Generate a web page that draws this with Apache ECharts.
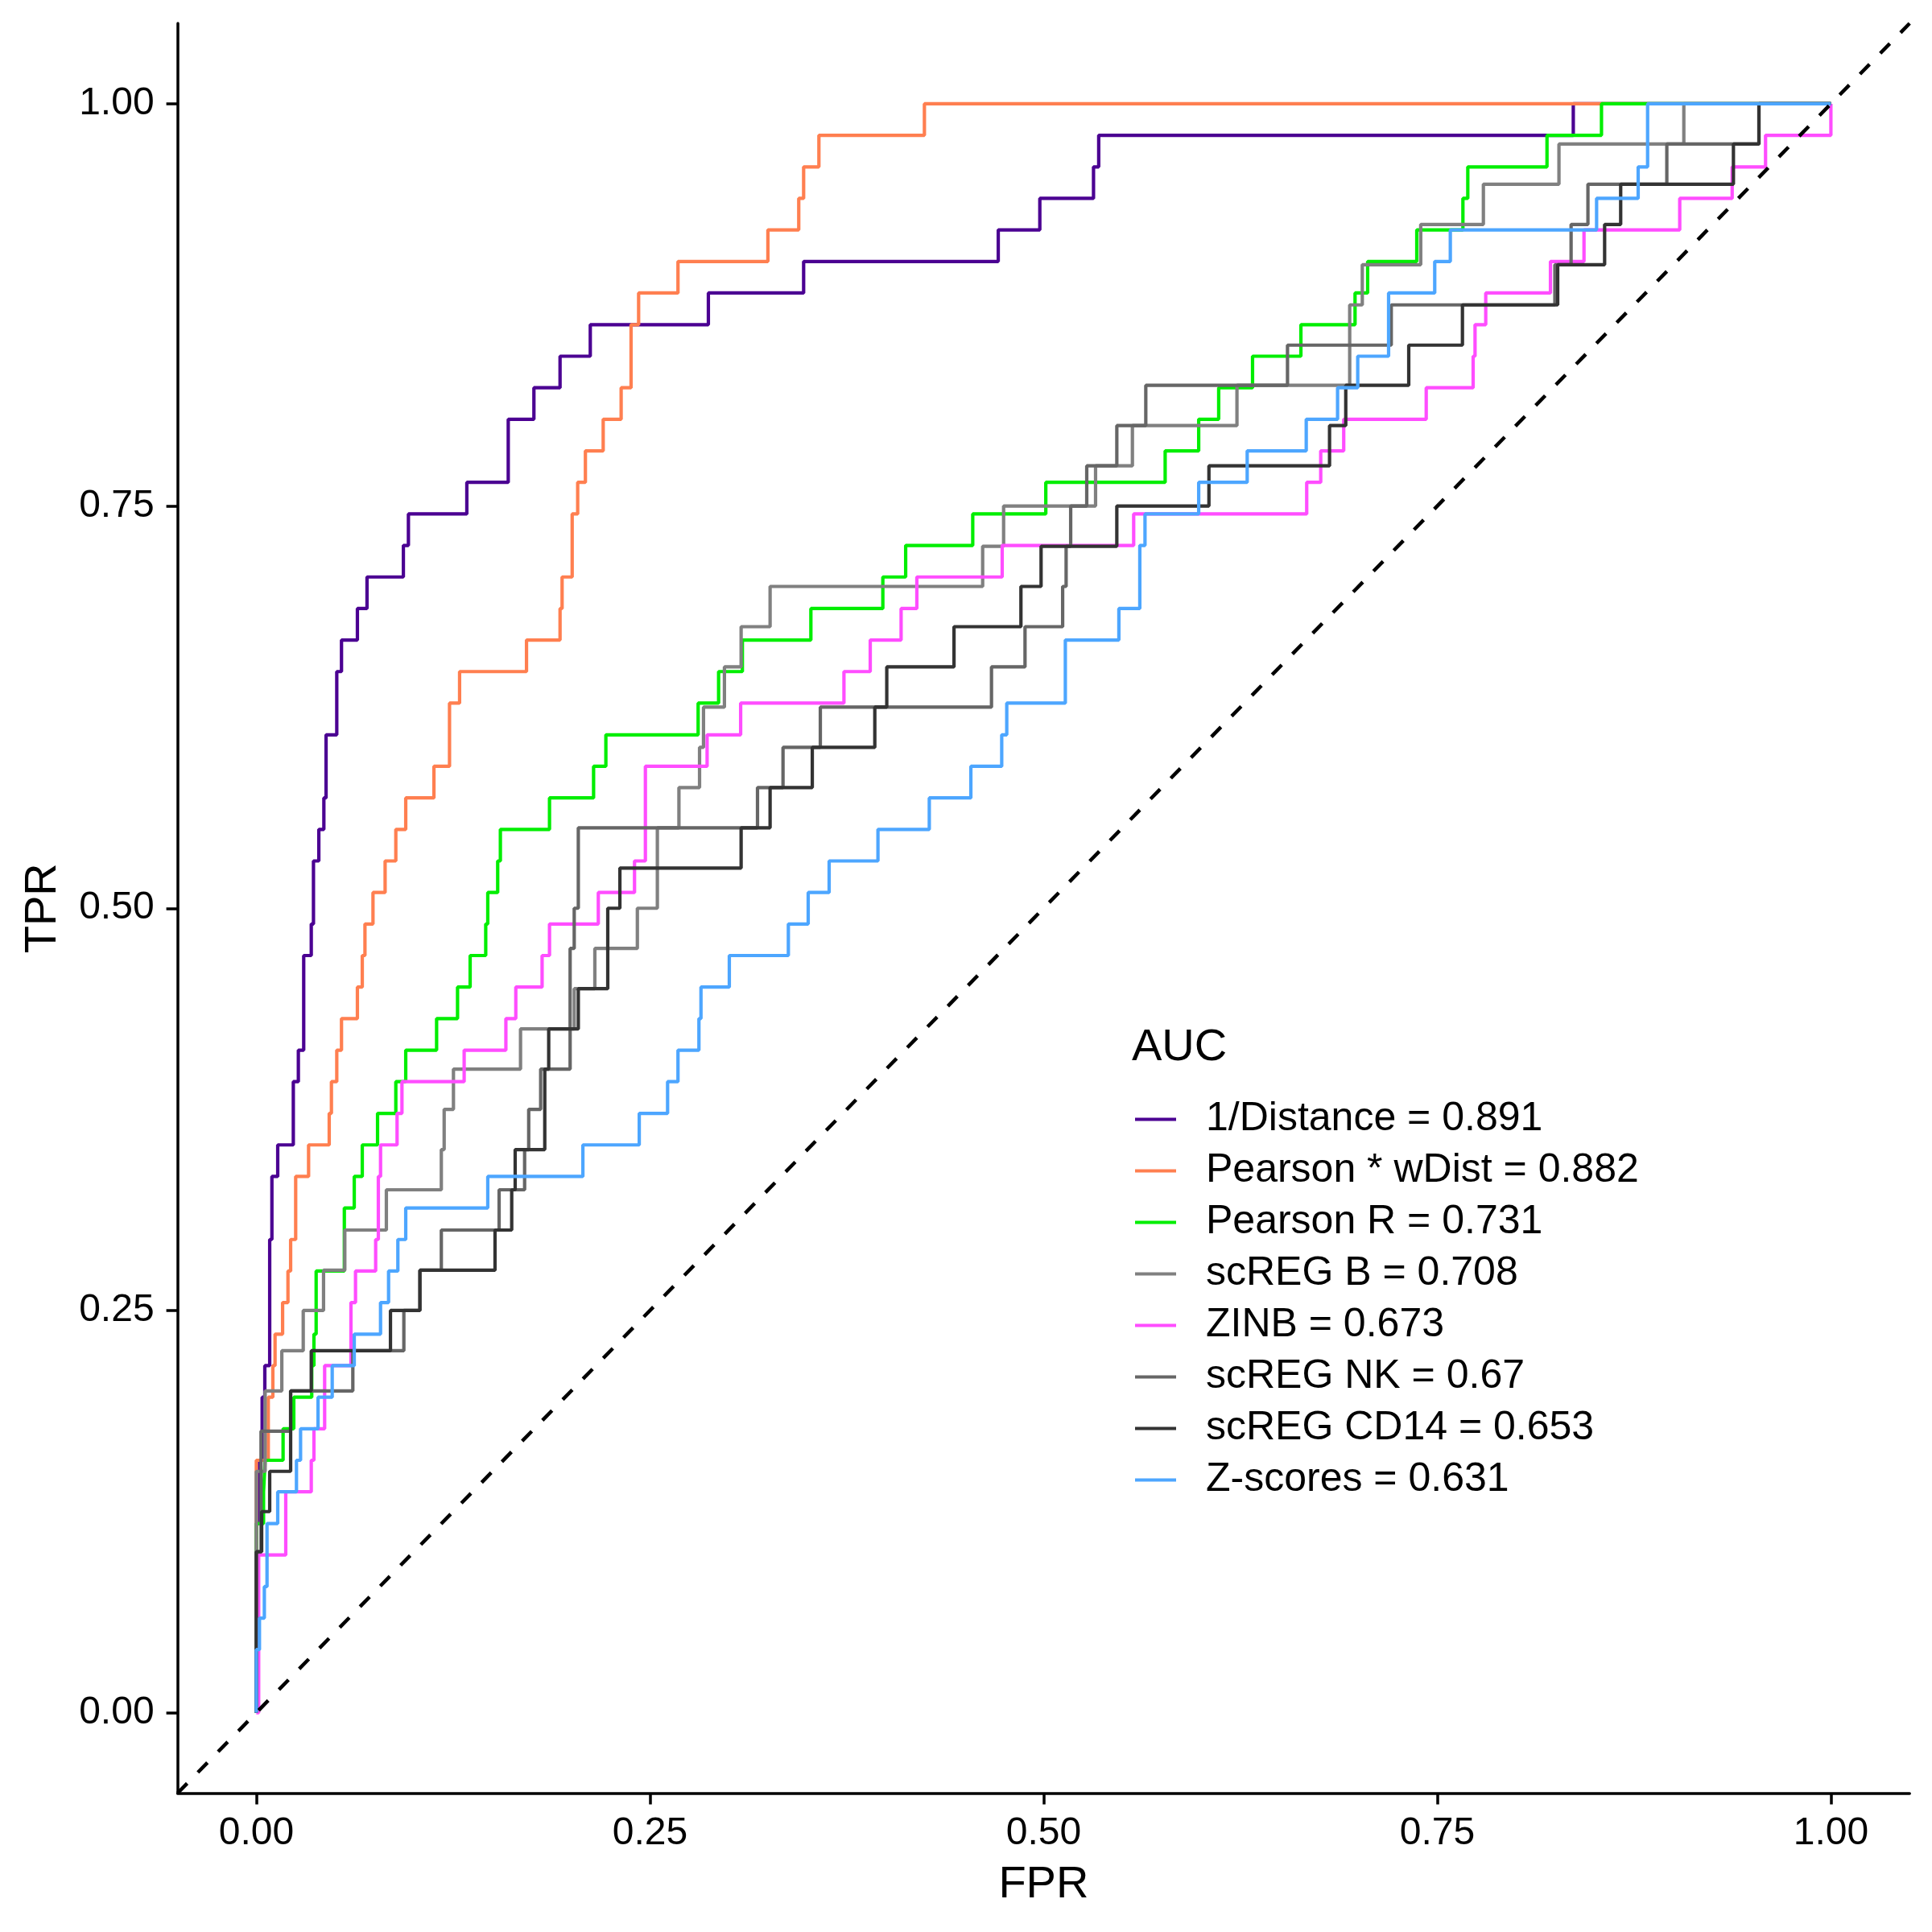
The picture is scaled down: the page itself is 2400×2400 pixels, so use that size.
<!DOCTYPE html>
<html><head><meta charset="utf-8">
<script src="https://cdn.jsdelivr.net/npm/echarts@6/dist/echarts.min.js"></script>
<style>html,body{margin:0;padding:0;background:#fff}#c{width:2400px;height:2400px}</style>
</head><body><div id="c"></div>
<script>
// ---- Data ----
const seriesNames = ["1/Distance = 0.891","Pearson * wDist = 0.882","Pearson R = 0.731","scREG B = 0.708","ZINB = 0.673","scREG NK = 0.67","scREG CD14 = 0.653","Z-scores = 0.631"];
const seriesColors = ["#4B0092","#FF7F50","#00EE00","#808080","#FF4DFF","#666666","#333333","#4DA6FF"];
const tickValues = [0, 0.25, 0.5, 0.75, 1];

const distFpr = [0,0,0.002,0.0037,0.0054,0.0085,0.0099,0.0136,0.0235,0.0267,0.0301,0.0349,0.0363,0.0397,0.0429,0.0443,0.0511,0.0541,0.0642,0.0703,0.0934,0.0966,0.1337,0.160,0.1763,0.1929,0.2121,0.2871,0.3476,0.4712,0.4976,0.5317,0.535,0.8364,1];
const distTpr = [0,0.1176,0.1569,0.1961,0.2157,0.2941,0.3333,0.3529,0.3922,0.4118,0.4706,0.4902,0.5294,0.549,0.5686,0.6078,0.6471,0.6667,0.6863,0.7059,0.7255,0.7451,0.7647,0.8039,0.8235,0.8431,0.8627,0.8824,0.902,0.9216,0.9412,0.9608,0.9804,1,1];

const pwdFpr = [0,0,0.0076,0.0105,0.0119,0.0167,0.0201,0.0218,0.025,0.0332,0.0463,0.0477,0.0511,0.0541,0.0642,0.0673,0.069,0.0741,0.0818,0.0886,0.0949,0.1128,0.1227,0.1291,0.1716,0.1929,0.1942,0.2006,0.2041,0.209,0.2203,0.2317,0.238,0.2428,0.2678,0.3249,0.3445,0.3476,0.3573,0.4243,1];
const pwdTpr = [0,0.1569,0.1961,0.2157,0.2353,0.2549,0.2745,0.2941,0.3333,0.3529,0.3725,0.3922,0.4118,0.4314,0.451,0.4706,0.4902,0.5098,0.5294,0.549,0.5686,0.5882,0.6275,0.6471,0.6667,0.6863,0.7059,0.7451,0.7647,0.7843,0.8039,0.8235,0.8627,0.8824,0.902,0.9216,0.9412,0.9608,0.9804,1,1];

const pearFpr = [0,0,0.0046,0.0056,0.017,0.0238,0.0352,0.0366,0.038,0.0559,0.0622,0.0673,0.077,0.0886,0.0949,0.1145,0.1278,0.1358,0.1457,0.147,0.1533,0.155,0.1862,0.2142,0.222,0.2806,0.2936,0.3087,0.3522,0.3979,0.4124,0.455,0.5014,0.5772,0.5985,0.6112,0.6327,0.6634,0.6978,0.7058,0.737,0.7663,0.7694,0.8197,0.8543,1];
const pearTpr = [0,0.1176,0.1373,0.1569,0.1765,0.1961,0.2157,0.2353,0.2745,0.3137,0.3333,0.3529,0.3725,0.3922,0.4118,0.4314,0.451,0.4706,0.4902,0.5098,0.5294,0.549,0.5686,0.5882,0.6078,0.6275,0.6471,0.6667,0.6863,0.7059,0.7255,0.7451,0.7647,0.7843,0.8039,0.8235,0.8431,0.8627,0.8824,0.902,0.9216,0.9412,0.9608,0.9804,1,1];

const bFpr = [0,0,0.0056,0.0162,0.0298,0.0427,0.0562,0.0826,0.1175,0.1193,0.1252,0.1678,0.2019,0.215,0.242,0.2547,0.2684,0.2815,0.284,0.2973,0.3079,0.3263,0.4613,0.4746,0.533,0.5564,0.6228,0.6944,0.7024,0.7395,0.7793,0.8273,0.9066,1];
const bTpr = [0,0.15,0.2,0.225,0.25,0.275,0.3,0.325,0.35,0.375,0.4,0.425,0.45,0.475,0.5,0.55,0.575,0.6,0.625,0.65,0.675,0.7,0.725,0.75,0.775,0.8,0.825,0.875,0.9,0.925,0.95,0.975,1,1];

const zinbFpr = [0,0.0015,0.0187,0.0349,0.0366,0.0434,0.0601,0.063,0.0758,0.0775,0.0789,0.0894,0.0925,0.132,0.1585,0.1648,0.1815,0.1862,0.2172,0.2402,0.2471,0.2863,0.3076,0.3732,0.3899,0.4095,0.4195,0.4737,0.5572,0.6671,0.676,0.6906,0.743,0.7728,0.774,0.7808,0.8219,0.8432,0.904,0.9373,0.9585,1];
const zinbTpr = [0,0.098,0.1373,0.1569,0.1765,0.2157,0.2549,0.2745,0.2941,0.3333,0.3529,0.3725,0.3922,0.4118,0.4314,0.451,0.4706,0.4902,0.5098,0.5294,0.5882,0.6078,0.6275,0.6471,0.6667,0.6863,0.7059,0.7255,0.7451,0.7647,0.7843,0.8039,0.8235,0.8431,0.8627,0.8824,0.902,0.9216,0.9412,0.9608,0.9804,1];

const nkFpr = [0,0,0.003,0.0218,0.0613,0.0937,0.1039,0.1175,0.1542,0.1704,0.173,0.1806,0.1993,0.2019,0.2045,0.3183,0.3345,0.3582,0.4669,0.4882,0.5121,0.5143,0.5172,0.5274,0.5465,0.5649,0.6549,0.7208,0.8247,0.835,0.8457,0.8958,0.9543,1];
const nkTpr = [0,0.1,0.175,0.2,0.225,0.25,0.275,0.3,0.325,0.35,0.375,0.4,0.475,0.5,0.55,0.575,0.6,0.625,0.65,0.675,0.7,0.725,0.75,0.775,0.8,0.825,0.85,0.875,0.9,0.925,0.95,0.975,1,1];

const cd14Fpr = [0,0,0.0034,0.0085,0.0218,0.0349,0.0852,0.1039,0.1516,0.1622,0.1644,0.1832,0.1857,0.2045,0.2232,0.2309,0.3079,0.3263,0.3531,0.3928,0.4004,0.4431,0.4856,0.4984,0.5465,0.605,0.6816,0.6919,0.7319,0.766,0.8265,0.8563,0.8665,0.9381,0.9543,1];
const cd14Tpr = [0,0.1,0.125,0.15,0.2,0.225,0.25,0.275,0.3,0.325,0.35,0.4,0.425,0.45,0.5,0.525,0.55,0.575,0.6,0.625,0.65,0.675,0.7,0.725,0.75,0.775,0.8,0.825,0.85,0.875,0.9,0.925,0.95,0.975,1,1];

const zFpr = [0,0,0.002,0.0051,0.0068,0.0136,0.0255,0.0281,0.0392,0.0482,0.0622,0.0789,0.084,0.0899,0.0949,0.147,0.2074,0.2432,0.2612,0.2678,0.2811,0.2824,0.3004,0.3379,0.3505,0.3638,0.3948,0.4274,0.4538,0.4734,0.4766,0.5138,0.5478,0.5611,0.5644,0.5985,0.6293,0.6668,0.6867,0.6995,0.7191,0.7484,0.7583,0.8512,0.8776,0.8836,1];
const zTpr = [0,0.0392,0.0588,0.0784,0.1176,0.1373,0.1569,0.1765,0.1961,0.2157,0.2353,0.2549,0.2745,0.2941,0.3137,0.3333,0.3529,0.3725,0.3922,0.4118,0.4314,0.451,0.4706,0.4902,0.5098,0.5294,0.549,0.5686,0.5882,0.6078,0.6275,0.6667,0.6863,0.7255,0.7451,0.7647,0.7843,0.8039,0.8235,0.8431,0.8824,0.902,0.9216,0.9412,0.9608,1,1];

const diagX = [-0.05, 1.05];
const diagY = [-0.05, 1.05];

// ---- Chart ----
const FONT = '"Liberation Sans", Arial, Helvetica, sans-serif';
const curves = [[distFpr,distTpr],[pwdFpr,pwdTpr],[pearFpr,pearTpr],[bFpr,bTpr],[zinbFpr,zinbTpr],[nkFpr,nkTpr],[cd14Fpr,cd14Tpr],[zFpr,zTpr]];
const zip = (xs, ys) => xs.map((x, i) => [x, ys[i]]);

const series = curves.map((c, i) => ({
  name: seriesNames[i], type: 'line', step: 'end',
  data: zip(c[0], c[1]),
  symbol: 'none', showSymbol: false, silent: true,
  lineStyle: { color: seriesColors[i], width: 4.2 },
  itemStyle: { color: seriesColors[i] },
  animation: false
}));
series.push({
  name: 'diag', type: 'line', data: zip(diagX, diagY), symbol: 'none', silent: true,
  lineStyle: { color: '#000', width: 4.5, type: [17, 19] }, animation: false
});

const axisCommon = {
  type: 'value', min: -0.05, max: 1.05,
  splitLine: { show: false },
  axisLine: { show: true, onZero: false, lineStyle: { color: '#000', width: 3.5 } },
  axisTick: { show: true, customValues: tickValues, length: 14, lineStyle: { color: '#000', width: 3.5 } },
  nameLocation: 'middle',
  nameTextStyle: { fontFamily: FONT, fontSize: 56, color: '#000' }
};

const chart = echarts.init(document.getElementById('c'), null, { renderer: 'canvas', width: 2400, height: 2400 });
chart.setOption({
  backgroundColor: '#fff',
  animation: false,
  grid: { left: 220.6, right: 27.8, top: 29, bottom: 172.5, containLabel: false },
  xAxis: Object.assign({}, axisCommon, {
    name: 'FPR', nameGap: 86,
    axisLabel: { customValues: tickValues, formatter: v => v.toFixed(2), fontFamily: FONT, fontSize: 48, color: '#000', margin: 26, lineHeight: 48 }
  }),
  yAxis: Object.assign({}, axisCommon, {
    name: 'TPR', nameGap: 139,
    axisLabel: { customValues: tickValues, formatter: v => v.toFixed(2), fontFamily: FONT, fontSize: 48, color: '#000', margin: 29 }
  }),
  legend: {
    data: seriesNames, orient: 'vertical', left: 1410, top: 1358.5, padding: 0,
    itemWidth: 51, itemHeight: 4, itemGap: 0, icon: 'rect', selectedMode: false,
    textStyle: { fontFamily: FONT, fontSize: 50, color: '#000', lineHeight: 64, padding: [0, 0, 0, 32] }
  },
  graphic: [{
    type: 'text', left: 1406, top: 1274,
    style: { text: 'AUC', font: '56px "Liberation Sans", Arial, sans-serif', fill: '#000' }
  }],
  series: series
});
</script>
</body></html>
